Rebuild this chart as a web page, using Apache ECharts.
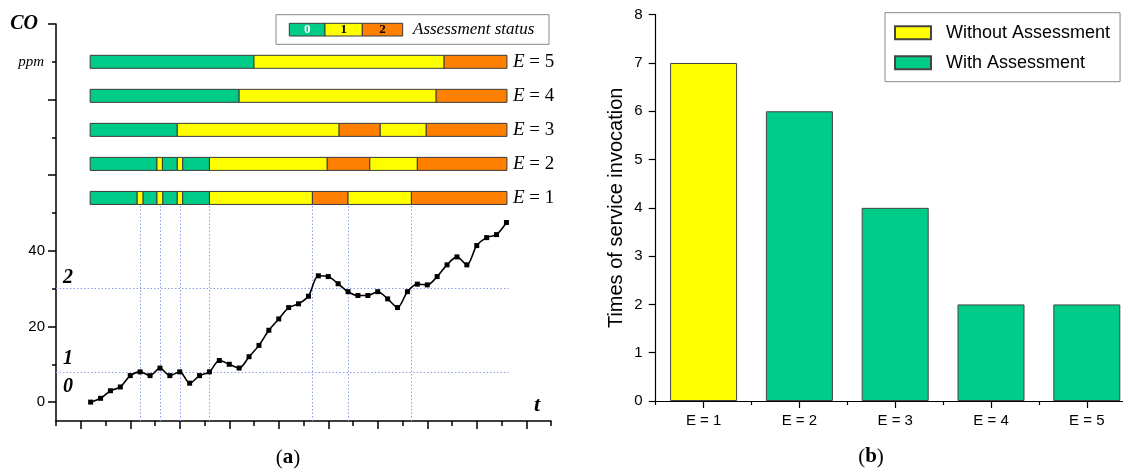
<!DOCTYPE html>
<html>
<head>
<meta charset="utf-8">
<script src="https://cdn.jsdelivr.net/npm/echarts@6/dist/echarts.min.js"></script>
<style>
html,body{margin:0;padding:0;background:#fff;}
#chart{width:1123px;height:470px;}
</style>
</head>
<body>
<div id="chart"></div>
<script>
// ---------- Panel (a) data ----------
const timeSteps = [1,2,3,4,5,6,7,8,9,10,11,12,13,14,15,16,17,18,19,20,21,22,23,24,25,26,27,28,29,30,31,32,33,34,35,36,37,38,39,40,41,42,43];
const coValues = [0,1,3,4,7,8,7,9,7,8,5,7,8,11,10,9,12,15,19,22,25,26,28,33.4,33.2,31.3,29.2,28.2,28.2,29.2,27.3,25,29.2,31.2,31,33.2,36.3,38.4,36.3,41.4,43.5,44.3,47.5];
const thresholds = [8, 30];
const thresholdEnd = 43.2;
const switchTimes = [6, 8, 10, 13, 23.4, 27, 33.4];
const switchLineTop = 52.2;
const rowNames = ['E = 5','E = 4','E = 3','E = 2','E = 1'];
const rowLevels = [90, 81, 72, 63, 54];
// segments per row: [status, from, to]
const statusE5 = [[0,0.95,17.5],[1,17.5,36.7],[2,36.7,43.05]];
const statusE4 = [[0,0.95,16.0],[1,16.0,35.9],[2,35.9,43.05]];
const statusE3 = [[0,0.95,9.75],[1,9.75,26.1],[2,26.1,30.25],[1,30.25,34.9],[2,34.9,43.05]];
const statusE2 = [[0,0.95,7.7],[1,7.7,8.25],[0,8.25,9.75],[1,9.75,10.3],[0,10.3,13],[1,13,24.9],[2,24.9,29.2],[1,29.2,34],[2,34,43.05]];
const statusE1 = [[0,0.95,5.7],[1,5.7,6.3],[0,6.3,7.7],[1,7.7,8.3],[0,8.3,9.75],[1,9.75,10.3],[0,10.3,13],[1,13,23.4],[2,23.4,27],[1,27,33.4],[2,33.4,43.05]];
const statusRows = [statusE5, statusE4, statusE3, statusE2, statusE1];
const statusLevels = ['0','1','2'];
const xMajorTicks = [0,5,10,15,20,25,30,35,40,45];
const yMinorTicks = [0,10,20,30,40,50,60,70,80,90,100];
const yMajorTicks = [0,20,40,60,80,100];
const yLabelValues = [0,20,40,90,100];

// ---------- Panel (b) data ----------
const categories = ['E = 1','E = 2','E = 3','E = 4','E = 5'];
const withoutAssessment = [7,'-','-','-','-'];
const withAssessment = ['-',6,4,2,2];

const GREEN = '#00CC8A', YELLOW = '#FFFF00', ORANGE = '#FF8000';
const statusColors = [GREEN, YELLOW, ORANGE];
const SERIF = '"Liberation Serif","Times New Roman",serif';
const SANS = '"Liberation Sans",Arial,sans-serif';

const segData = [];
statusRows.forEach((row, r) => row.forEach(s => segData.push([s[1], s[2], rowLevels[r], s[0]])));
const rowLabelData = rowNames.map((n, r) => [43.05, rowLevels[r], n]);

const chart = echarts.init(document.getElementById('chart'), null, {renderer:'canvas'});
const dotted = {type:[1.5,2], color:'#8C9EF0', width:1};

const option = {
  backgroundColor:'#fff',
  animation:false,
  grid:[
    {left:56, top:24, width:495, height:397, outerBoundsMode:'none', containLabel:false},
    {left:655.7, top:14.7, width:479, height:386.3, outerBoundsMode:'none', containLabel:false}
  ],
  legend:{
    data:['Without Assessment','With Assessment'],
    orient:'vertical', left:885, top:12.7,
    itemWidth:36, itemHeight:13, itemGap:12,
    padding:[11,10,10,9],
    borderColor:'#888', borderWidth:1, backgroundColor:'#fff',
    icon:'rect',
    textStyle:{fontFamily:SANS, fontSize:18, color:'#000', padding:[0,0,0,10]}
  },
  xAxis:[
    {gridIndex:0, type:'value', min:-2.5, max:47.5, interval:2.5, position:'bottom',
     axisLine:{show:true, onZero:false, lineStyle:{color:'#000', width:1.5}},
     axisTick:{show:true, length:5, lineStyle:{color:'#000', width:1.5}},
     axisLabel:{show:false}, splitLine:{show:false}},
    {gridIndex:0, type:'value', min:-2.5, max:47.5, position:'bottom',
     axisLine:{show:false, onZero:false},
     axisTick:{show:true, length:8, customValues:xMajorTicks, lineStyle:{color:'#000', width:1.5}},
     axisLabel:{show:false}, splitLine:{show:false}},
    {gridIndex:1, type:'category', data:categories, position:'bottom',
     axisLine:{onZero:false, lineStyle:{color:'#000', width:1.2}},
     axisTick:{show:true, length:4, lineStyle:{color:'#000', width:1.2}},
     axisLabel:{fontFamily:SANS, fontSize:15, color:'#000', margin:12}},
    {gridIndex:1, type:'category', data:categories, position:'bottom',
     axisLine:{show:false, onZero:false},
     axisTick:{show:true, alignWithLabel:true, length:7, lineStyle:{color:'#000', width:1.2}},
     axisLabel:{show:false}}
  ],
  yAxis:[
    {gridIndex:0, type:'value', min:-5, max:100, position:'left',
     axisLine:{show:true, onZero:false, lineStyle:{color:'#000', width:1.5}},
     axisTick:{show:true, length:4, customValues:yMinorTicks, lineStyle:{color:'#000', width:1.5}},
     axisLabel:{show:true, customValues:yLabelValues, margin:11, fontFamily:SANS, fontSize:15, color:'#000',
       formatter:function(v){ if(v===100) return '{co|CO}'; if(v===90) return '{ppm|ppm}'; return String(v); },
       rich:{
         co:{fontFamily:SERIF, fontSize:20, fontWeight:'bold', fontStyle:'italic', color:'#000', padding:[0,7,0,0]},
         ppm:{fontFamily:SERIF, fontSize:15, fontStyle:'italic', color:'#000', padding:[0,1,0,0]}
       }},
     splitLine:{show:false}},
    {gridIndex:0, type:'value', min:-5, max:100, position:'left',
     axisLine:{show:false, onZero:false},
     axisTick:{show:true, length:8, customValues:yMajorTicks, lineStyle:{color:'#000', width:1.5}},
     axisLabel:{show:false}, splitLine:{show:false}},
    {gridIndex:1, type:'value', min:0, max:8, interval:1, position:'left',
     name:'Times of service invocation', nameLocation:'middle', nameGap:29, nameRotate:90,
     nameTextStyle:{fontFamily:SANS, fontSize:20, color:'#000'},
     axisLine:{show:true, onZero:false, lineStyle:{color:'#000', width:1.2}},
     axisTick:{show:true, length:7, lineStyle:{color:'#000', width:1.2}},
     axisLabel:{fontFamily:SANS, fontSize:15, color:'#000', margin:13},
     splitLine:{show:false}}
  ],
  series:[
    {type:'line', xAxisIndex:0, yAxisIndex:0, z:5,
     data:timeSteps.map((t,i)=>[t, coValues[i]]),
     smooth:0.3, symbol:'rect', symbolSize:5,
     lineStyle:{color:'#000', width:1.6}, itemStyle:{color:'#000'},
     markLine:{silent:true, symbol:['none','none'], label:{show:false}, lineStyle:dotted,
       data:[
         ...thresholds.map(v=>[{coord:[-2.5, v]},{coord:[thresholdEnd, v]}]),
         ...switchTimes.map(v=>[{coord:[v, -5]},{coord:[v, switchLineTop]}])
       ]}
    },
    {type:'custom', xAxisIndex:0, yAxisIndex:0, z:4, data:segData,
     renderItem:function(params, api){
       const p1 = api.coord([api.value(0), api.value(2)]);
       const p2 = api.coord([api.value(1), api.value(2)]);
       return {type:'rect', shape:{x:p1[0], y:p1[1]-6.5, width:p2[0]-p1[0], height:13},
               style:{fill:statusColors[api.value(3)], stroke:'#3a3a3a', lineWidth:1}};
     }},
    {type:'custom', xAxisIndex:0, yAxisIndex:0, z:4, data:rowLabelData,
     renderItem:function(params, api){
       const p = api.coord([api.value(0), api.value(1)]);
       const name = rowLabelData[params.dataIndex][2];
       return {type:'text', x:p[0]+6, y:p[1],
         style:{text:'{i|E}' + name.slice(1), textVerticalAlign:'middle', textAlign:'left',
           fontFamily:SERIF, fontSize:19, fill:'#000',
           rich:{i:{fontFamily:SERIF, fontSize:19, fontStyle:'italic', fill:'#000'}}}};
     }},
    {name:'Without Assessment', type:'bar', xAxisIndex:2, yAxisIndex:2, stack:'s', barWidth:67,
     data:withoutAssessment, itemStyle:{color:YELLOW, borderColor:'#444', borderWidth:1}},
    {name:'With Assessment', type:'bar', xAxisIndex:2, yAxisIndex:2, stack:'s', barWidth:67,
     data:withAssessment, itemStyle:{color:GREEN, borderColor:'#444', borderWidth:1}}
  ],
  graphic:[
    {type:'rect', z:10, shape:{x:276, y:14.7, width:273, height:29.6}, style:{fill:'#fff', stroke:'#888', lineWidth:1}},
    {type:'rect', z:11, shape:{x:289.3, y:23.3, width:35.7, height:12.7}, style:{fill:GREEN, stroke:'#3a3a3a', lineWidth:1}},
    {type:'rect', z:11, shape:{x:325, y:23.3, width:37.3, height:12.7}, style:{fill:YELLOW, stroke:'#3a3a3a', lineWidth:1}},
    {type:'rect', z:11, shape:{x:362.3, y:23.3, width:40.4, height:12.7}, style:{fill:ORANGE, stroke:'#3a3a3a', lineWidth:1}},
    {type:'text', z:12, x:307.2, y:30, style:{text:statusLevels[0], fill:'#fff', font:'bold 13px '+SERIF, textAlign:'center', textVerticalAlign:'middle'}},
    {type:'text', z:12, x:343.7, y:30, style:{text:statusLevels[1], fill:'#000', font:'bold 13px '+SERIF, textAlign:'center', textVerticalAlign:'middle'}},
    {type:'text', z:12, x:382.5, y:30, style:{text:statusLevels[2], fill:'#000', font:'bold 13px '+SERIF, textAlign:'center', textVerticalAlign:'middle'}},
    {type:'text', z:12, x:413, y:30, style:{text:'Assessment status', fill:'#000', font:'italic 17px '+SERIF, textAlign:'left', textVerticalAlign:'middle'}},
    {type:'text', z:12, x:68, y:278, style:{text:statusLevels[2], fill:'#000', font:'bold italic 20px '+SERIF, textAlign:'center', textVerticalAlign:'middle'}},
    {type:'text', z:12, x:68, y:359, style:{text:statusLevels[1], fill:'#000', font:'bold italic 20px '+SERIF, textAlign:'center', textVerticalAlign:'middle'}},
    {type:'text', z:12, x:68, y:387, style:{text:statusLevels[0], fill:'#000', font:'bold italic 20px '+SERIF, textAlign:'center', textVerticalAlign:'middle'}},
    {type:'text', z:12, x:537, y:405, style:{text:'t', fill:'#000', font:'bold italic 22px '+SERIF, textAlign:'center', textVerticalAlign:'middle'}},
    {type:'text', z:12, x:288, y:458, style:{text:'({b|a})', fill:'#000', font:'21px '+SERIF, textAlign:'center', textVerticalAlign:'middle',
       rich:{b:{font:'bold 21px '+SERIF, fill:'#000'}}}},
    {type:'text', z:12, x:871, y:457, style:{text:'({b|b})', fill:'#000', font:'21px '+SERIF, textAlign:'center', textVerticalAlign:'middle',
       rich:{b:{font:'bold 21px '+SERIF, fill:'#000'}}}}
  ]
};
chart.setOption(option);
</script>
</body>
</html>
